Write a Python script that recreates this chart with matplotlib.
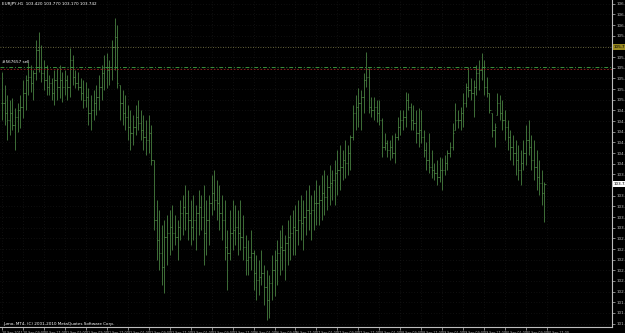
import numpy as np
import matplotlib.pyplot as plt

# EURJPY H1 bars, 20 Sep 2011 - 30 Sep 2011 (open is taken from the previous close)
highs = [
    105.42, 105.22, 105.08, 105.00, 105.03, 104.88, 104.96, 105.08,
    105.30, 105.38, 105.57, 105.52, 105.45, 105.90, 106.02, 105.82,
    105.60, 105.52, 105.38, 105.33, 105.45, 105.48, 105.52, 105.42,
    105.45, 105.38, 105.78, 105.68, 105.45, 105.42, 105.33, 105.30,
    105.27, 105.18, 105.08, 105.15, 105.22, 105.38, 105.52, 105.68,
    105.70, 105.60, 105.90, 106.23, 106.12, 105.22, 105.15, 105.08,
    104.92, 104.85, 104.78, 104.92, 105.00, 104.85, 104.78, 104.70,
    104.78, 104.62, 104.10, 103.50, 103.35, 103.12, 103.20, 103.28,
    103.35, 103.42, 103.28, 103.20, 103.50, 103.58, 103.72, 103.65,
    103.50, 103.58, 103.42, 103.65, 103.58, 103.72, 103.50, 103.58,
    103.88, 103.95, 103.80, 103.72, 103.58, 103.50, 103.05, 103.35,
    103.50, 103.42, 103.35, 103.50, 103.28, 102.98, 102.90, 103.05,
    102.75, 102.68, 102.60, 102.75, 102.52, 102.45, 102.38, 102.68,
    102.75, 102.90, 103.05, 103.12, 102.98, 103.20, 103.28, 103.35,
    103.42, 103.50, 103.58, 103.50, 103.65, 103.72, 103.58, 103.65,
    103.80, 103.72, 103.88, 103.95, 103.88, 104.02, 103.95, 104.10,
    104.25, 104.32, 104.25, 104.40, 104.32, 104.48, 104.92, 105.08,
    105.18, 105.15, 105.40, 105.72, 105.48, 105.04, 105.04, 105.00,
    105.00, 104.73, 104.50, 104.40, 104.40, 104.48, 104.50, 104.74,
    104.85, 104.85, 105.12, 105.10, 104.96, 104.92, 104.85, 104.88,
    104.85, 104.55, 104.37, 104.50, 104.25, 104.06, 104.10, 104.14,
    104.13, 104.18, 104.25, 104.37, 104.66, 104.96, 104.85, 104.90,
    105.10, 105.25, 105.50, 105.33, 105.30, 105.52, 105.60, 105.70,
    105.60, 105.34, 105.10, 104.80, 104.66, 105.10, 105.08, 105.00,
    104.85, 104.70, 104.55, 104.48, 104.40, 104.32, 104.25, 104.40,
    104.62, 104.70, 104.48, 104.40, 104.25, 104.10, 103.95, 103.77,
]
lows = [
    104.70, 104.62, 104.40, 104.48, 104.55, 104.25, 104.52, 104.58,
    104.73, 104.85, 105.08, 105.12, 105.00, 105.30, 105.42, 105.27,
    105.15, 105.08, 105.08, 105.00, 104.92, 105.00, 105.03, 104.97,
    105.08, 105.00, 105.04, 105.22, 105.18, 105.15, 105.00, 104.88,
    104.90, 104.62, 104.55, 104.70, 104.78, 104.85, 105.00, 105.15,
    105.18, 105.22, 105.30, 105.45, 105.18, 104.70, 104.62, 104.55,
    104.40, 104.25, 104.32, 104.48, 104.55, 104.40, 104.25, 104.18,
    104.20, 104.02, 103.05, 102.60, 102.45, 102.22, 102.10, 102.52,
    102.68, 102.75, 102.82, 102.60, 102.90, 102.98, 103.05, 102.90,
    102.82, 102.90, 102.75, 102.98, 103.05, 102.52, 102.68, 102.82,
    103.28, 103.35, 103.20, 103.05, 102.90, 102.60, 102.15, 102.60,
    102.75, 102.82, 102.68, 102.75, 102.60, 102.38, 102.38, 102.45,
    102.15, 102.00, 102.08, 102.22, 101.92, 101.70, 101.73, 102.00,
    102.06, 102.22, 102.38, 102.45, 102.30, 102.52, 102.60, 102.68,
    102.68, 102.82, 102.90, 102.75, 102.98, 103.05, 102.90, 103.05,
    103.12, 103.12, 103.20, 103.28, 103.35, 103.42, 103.50, 103.42,
    103.58, 103.65, 103.80, 103.83, 103.88, 103.95, 104.40, 104.55,
    104.60, 104.55, 104.80, 105.20, 104.80, 104.74, 104.70, 104.67,
    104.62, 104.14, 104.25, 104.14, 104.10, 104.13, 104.06, 104.40,
    104.48, 104.55, 104.60, 104.85, 104.55, 104.55, 104.36, 104.30,
    104.36, 104.14, 103.95, 103.90, 103.83, 103.80, 103.72, 103.77,
    103.65, 103.88, 103.95, 104.14, 104.25, 104.55, 104.58, 104.55,
    104.60, 104.90, 105.04, 105.00, 104.74, 105.08, 105.15, 105.30,
    105.08, 105.04, 104.80, 104.44, 104.30, 104.78, 104.70, 104.55,
    104.40, 104.25, 104.10, 104.02, 103.88, 103.80, 103.72, 103.95,
    104.02, 104.18, 103.95, 103.80, 103.65, 103.58, 103.42, 103.17,
]
closes = [
    104.95, 104.80, 104.70, 104.80, 104.62, 104.75, 104.85, 104.90,
    105.10, 105.30, 105.35, 105.25, 105.40, 105.75, 105.50, 105.40,
    105.30, 105.20, 105.25, 105.10, 105.30, 105.20, 105.30, 105.20,
    105.30, 105.20, 105.60, 105.35, 105.25, 105.20, 105.10, 105.00,
    105.05, 104.80, 104.85, 104.95, 105.05, 105.20, 105.40, 105.50,
    105.45, 105.50, 105.80, 105.95, 105.25, 104.95, 104.80, 104.75,
    104.60, 104.50, 104.60, 104.75, 104.65, 104.55, 104.45, 104.40,
    104.50, 104.10, 103.20, 102.90, 102.70, 102.50, 102.95, 103.00,
    103.10, 103.00, 102.95, 103.10, 103.30, 103.40, 103.30, 103.20,
    103.10, 103.20, 103.30, 103.40, 103.25, 103.00, 103.20, 103.45,
    103.60, 103.50, 103.45, 103.30, 103.20, 102.80, 102.70, 103.00,
    103.05, 103.10, 103.00, 102.95, 102.80, 102.60, 102.65, 102.70,
    102.40, 102.30, 102.35, 102.40, 102.20, 102.00, 102.25, 102.45,
    102.60, 102.70, 102.80, 102.75, 102.85, 102.95, 103.00, 103.10,
    103.05, 103.20, 103.15, 103.25, 103.35, 103.30, 103.35, 103.45,
    103.45, 103.50, 103.60, 103.55, 103.70, 103.75, 103.80, 103.90,
    103.95, 104.00, 104.10, 104.05, 104.20, 104.45, 104.80, 104.90,
    104.95, 105.05, 105.30, 105.35, 104.90, 104.85, 104.90, 104.80,
    104.70, 104.30, 104.35, 104.25, 104.30, 104.20, 104.45, 104.60,
    104.70, 104.75, 105.00, 104.90, 104.70, 104.65, 104.50, 104.55,
    104.45, 104.25, 104.10, 104.00, 103.95, 103.90, 103.85, 103.95,
    103.95, 104.05, 104.20, 104.30, 104.50, 104.70, 104.70, 104.80,
    104.95, 105.20, 105.15, 105.10, 105.20, 105.40, 105.45, 105.50,
    105.20, 105.10, 104.85, 104.55, 104.60, 104.95, 104.80, 104.70,
    104.60, 104.45, 104.30, 104.20, 104.10, 103.95, 104.05, 104.20,
    104.40, 104.30, 104.10, 104.00, 103.85, 103.75, 103.60, 103.74,
]

date_labels = [
    "20 Sep 2011", "20 Sep 09:00", "20 Sep 17:00", "21 Sep 01:00", "21 Sep 09:00",
    "21 Sep 17:00", "22 Sep 01:00", "22 Sep 09:00", "22 Sep 17:00", "23 Sep 01:00",
    "23 Sep 09:00", "23 Sep 17:00", "26 Sep 01:00", "26 Sep 09:00", "26 Sep 17:00",
    "27 Sep 01:00", "27 Sep 09:00", "27 Sep 17:00", "28 Sep 01:00", "28 Sep 09:00",
    "28 Sep 17:00", "29 Sep 01:00", "29 Sep 09:00", "29 Sep 17:00", "30 Sep 01:00",
    "30 Sep 09:00", "30 Sep 17:00",
]
bars_per_label = 8

title_text = "EURJPY,H1  103.420 103.770 103.170 103.742"
copyright_text = "Jumo, MT4, (C) 2001-2010 MetaQuotes Software Corp."
level_price = 105.795
order_price = 105.50
order_stop = 105.46
order_text = "#567657 sell"
bid_price = 103.742

BAR = '#4f8c47'
GRID = '#1e1e1e'
AXIS = '#bdbdbd'

highs = np.array(highs)
lows = np.array(lows)
closes = np.array(closes)
opens = np.clip(np.concatenate([[closes[0]], closes[:-1]]), lows, highs)
x = np.arange(len(highs))

fig = plt.figure(figsize=(6.25, 3.33), dpi=100, facecolor='black')
ax = fig.add_axes([0, 6 / 333, 612 / 625, 327 / 333], facecolor='black')
ax.set_xlim(-0.76, 232.8)
ax.set_ylim(101.595, 106.5)

# grid
yticks = np.arange(101.645, 106.45, 0.16)
xticks = np.arange(len(date_labels)) * bars_per_label
for v in xticks:
    ax.axvline(v, color=GRID, lw=0.5, ls=(0, (1, 3)), zorder=0)
for v in yticks:
    ax.axhline(v, color=GRID, lw=0.5, ls=(0, (1, 3)), zorder=0)

# OHLC bars
ax.vlines(x, lows, highs, color=BAR, lw=0.55)
ax.hlines(opens, x - 0.45, x, color=BAR, lw=0.5)
ax.hlines(closes, x, x + 0.45, color=BAR, lw=0.5)

# levels
ax.axhline(level_price, color='#8a8550', lw=0.6, ls=(0, (1, 2)))
ax.axhline(order_price, color='#3a8f3a', lw=0.7, ls=(0, (4, 2, 1, 2)))
ax.axhline(order_stop, color='#a01e1e', lw=0.6, ls=(0, (2, 2)))
ax.text(0.003, order_price + 0.04, order_text, color='white', fontsize=3,
        va='bottom', ha='left', transform=ax.get_yaxis_transform())

# axes frame
for side in ['top', 'left']:
    ax.spines[side].set_visible(False)
for side in ['right', 'bottom']:
    ax.spines[side].set_color(AXIS)
    ax.spines[side].set_linewidth(0.8)

ax.yaxis.tick_right()
ax.set_yticks(yticks, [f'{v:.3f}' for v in yticks])
ax.tick_params(axis='y', colors=AXIS, labelsize=3, length=2, width=0.5, pad=1)
ax.set_xticks(xticks, date_labels)
ax.tick_params(axis='x', colors=AXIS, labelsize=2.3, length=2, width=0.5, pad=1)
for lbl in ax.get_xticklabels():
    lbl.set_horizontalalignment('left')

# price labels on the right scale
ax.text(1.003, level_price, f'{level_price:.3f}', color='black', fontsize=3,
        va='center', ha='left', transform=ax.get_yaxis_transform(),
        bbox=dict(facecolor='#9a8a20', edgecolor='none', pad=0.6), clip_on=False)
ax.text(1.003, bid_price, f'{bid_price:.3f}', color='black', fontsize=3,
        va='center', ha='left', transform=ax.get_yaxis_transform(),
        bbox=dict(facecolor='white', edgecolor='none', pad=0.6), clip_on=False)

ax.text(0.003, 0.995, title_text, color='white', fontsize=3, va='top', ha='left',
        transform=ax.transAxes)
ax.text(0.005, 0.004, copyright_text, color='white', fontsize=3, va='bottom',
        ha='left', transform=ax.transAxes)

fig.savefig('out.png', dpi=100, facecolor='black')
